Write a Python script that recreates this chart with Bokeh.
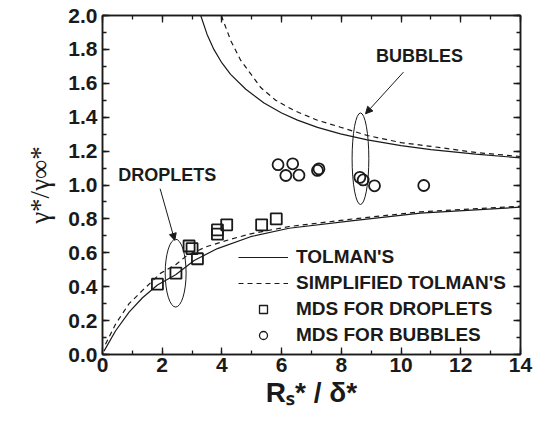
from bokeh.plotting import figure
from bokeh.models import (Range1d, LinearAxis, FixedTicker, Label, Arrow, NormalHead,
                          Legend, LegendItem)
from bokeh.embed import file_html
from bokeh.resources import INLINE

# ---------------- data ----------------
drop_tolman_r = [0.05, 0.44, 0.89, 1.34, 1.84, 2.45, 3.07, 3.85, 4.96, 6.25, 8.40, 10.65, 14.0]
drop_tolman_g = [0.02, 0.14, 0.25, 0.335, 0.41, 0.47, 0.555, 0.625, 0.695, 0.745, 0.79, 0.834, 0.869]

drop_simple_r = [0.10, 0.44, 0.89, 1.34, 1.95, 2.45, 2.80, 3.46, 4.29, 4.96, 6.25, 8.40, 10.65, 14.0]
drop_simple_g = [0.06, 0.18, 0.30, 0.378, 0.48, 0.53, 0.58, 0.635, 0.68, 0.712, 0.755, 0.80, 0.842, 0.875]

bub_tolman_r = [3.29, 3.50, 3.73, 4.0, 4.29, 4.8, 5.41, 6.0, 6.53, 7.2, 7.97, 8.87, 10.0, 11.0, 12.5, 14.0]
bub_tolman_g = [2.0, 1.89, 1.80, 1.72, 1.653, 1.565, 1.484, 1.425, 1.383, 1.34, 1.302, 1.266, 1.232, 1.209, 1.182, 1.16]

bub_simple_r = [3.98, 4.3, 4.63, 5.30, 5.8, 6.41, 7.2, 7.97, 8.87, 10.0, 11.0, 12.5, 14.0]
bub_simple_g = [2.0, 1.85, 1.735, 1.575, 1.50, 1.44, 1.382, 1.341, 1.292, 1.25, 1.228, 1.192, 1.168]

mds_drop_r = [1.84, 2.46, 2.90, 3.00, 3.18, 3.85, 3.85, 4.16, 5.33, 5.82]
mds_drop_g = [0.415, 0.48, 0.64, 0.625, 0.565, 0.735, 0.71, 0.765, 0.765, 0.80]

mds_bub_r = [5.88, 6.37, 6.14, 6.58, 7.20, 7.25, 8.62, 8.73, 9.11, 10.76]
mds_bub_g = [1.12, 1.125, 1.056, 1.058, 1.086, 1.095, 1.045, 1.03, 0.995, 0.997]

x_ticks = [0, 2, 4, 6, 8, 10, 12, 14]
x_minor = [0, 1, 2, 3, 4, 5, 6, 7, 8, 9, 10, 11, 12, 13, 14]
y_ticks = [0.0, 0.2, 0.4, 0.6, 0.8, 1.0, 1.2, 1.4, 1.6, 1.8, 2.0]
y_minor = [0.0, 0.1, 0.2, 0.3, 0.4, 0.5, 0.6, 0.7, 0.8, 0.9, 1.0,
           1.1, 1.2, 1.3, 1.4, 1.5, 1.6, 1.7, 1.8, 1.9, 2.0]

x_title = "R\u209b* / \u03b4*"
y_title = "\u03b3*/\u03b3\u221e*"

# ---------------- figure ----------------
FONT = "Liberation Sans"
SERIF = "Liberation Serif"
INK = "#1a1a1a"

p = figure(width=535, height=422, output_backend="svg", toolbar_location=None,
           x_range=Range1d(0, 14), y_range=Range1d(0, 2.0),
           min_border_left=102, min_border_right=15, min_border_top=15, min_border_bottom=68,
           x_axis_location=None, y_axis_location=None)
p.grid.visible = False
p.outline_line_color = INK
p.outline_line_width = 1.5
p.background_fill_color = "white"
p.border_fill_color = "white"


def style_axis(ax, ticks, minor, labels=True):
    ax.ticker = FixedTicker(ticks=ticks, minor_ticks=minor)
    ax.major_tick_in = 7
    ax.major_tick_out = 0
    ax.minor_tick_in = 4
    ax.minor_tick_out = 0
    ax.major_tick_line_color = INK
    ax.minor_tick_line_color = INK
    ax.major_tick_line_width = 1.3
    ax.minor_tick_line_width = 1.3
    ax.axis_line_color = INK
    ax.axis_line_width = 1.5
    if labels:
        ax.major_label_text_font = FONT
        ax.major_label_text_font_style = "bold"
        ax.major_label_text_font_size = "21px"
        ax.major_label_text_color = INK
        ax.major_label_standoff = 4
    else:
        ax.major_label_text_color = None
        ax.major_label_text_font_size = "1px"
        ax.major_label_standoff = 0


xb = LinearAxis()
style_axis(xb, x_ticks, x_minor)
xb.major_label_overrides = {t: str(t) for t in x_ticks}
xb.major_label_standoff = 3
xb.axis_label = x_title
xb.axis_label_text_font = FONT
xb.axis_label_text_font_style = "bold"
xb.axis_label_text_font_size = "28px"
xb.axis_label_text_color = INK
xb.axis_label_standoff = 2
p.add_layout(xb, "below")

yl = LinearAxis()
style_axis(yl, y_ticks, y_minor)
yl.major_label_overrides = {t: f"{t:.1f}" for t in y_ticks}
yl.major_label_standoff = 5
yl.axis_label = y_title
yl.axis_label_text_font = SERIF
yl.axis_label_text_font_style = "normal"
yl.axis_label_text_font_size = "27px"
yl.axis_label_text_color = INK
yl.axis_label_standoff = 10
p.add_layout(yl, "left")

xt = LinearAxis()
style_axis(xt, x_ticks, x_minor, labels=False)
p.add_layout(xt, "above")

yr = LinearAxis()
style_axis(yr, y_ticks, y_minor, labels=False)
p.add_layout(yr, "right")

# ---------------- curves and points ----------------
r1 = p.line(drop_tolman_r, drop_tolman_g, line_color=INK, line_width=1.2)
p.line(bub_tolman_r, bub_tolman_g, line_color=INK, line_width=1.2)
r2 = p.line(drop_simple_r, drop_simple_g, line_color=INK, line_width=1.2, line_dash="5 4")
p.line(bub_simple_r, bub_simple_g, line_color=INK, line_width=1.2, line_dash="5 4")

p.scatter(mds_drop_r, mds_drop_g, marker="square", size=11, fill_alpha=0,
          line_color=INK, line_width=1.8)
p.scatter(mds_bub_r, mds_bub_g, marker="circle", size=11, fill_alpha=0,
          line_color=INK, line_width=1.8)

# legend proxies (smaller markers, as in the reference legend)
leg_sq = p.scatter([float("nan")], [float("nan")], marker="square", size=8, fill_alpha=0,
                   line_color=INK, line_width=1.3)
leg_ci = p.scatter([float("nan")], [float("nan")], marker="circle", size=8, fill_alpha=0,
                   line_color=INK, line_width=1.3)

legend = Legend(items=[LegendItem(label="TOLMAN'S", renderers=[r1]),
                       LegendItem(label="SIMPLIFIED TOLMAN'S", renderers=[r2]),
                       LegendItem(label="MDS FOR DROPLETS", renderers=[leg_sq]),
                       LegendItem(label="MDS FOR BUBBLES", renderers=[leg_ci])],
                location=(136, 8), orientation="vertical")
legend.label_text_font = FONT
legend.label_text_font_style = "bold"
legend.label_text_font_size = "19px"
legend.label_text_color = INK
legend.glyph_width = 50
legend.glyph_height = 20
legend.label_height = 20
legend.spacing = 4
legend.label_standoff = 8
legend.padding = 0
legend.margin = 0
legend.border_line_color = None
legend.background_fill_alpha = 0
p.add_layout(legend, "center")

# ---------------- annotations ----------------
p.ellipse(x=[8.64], y=[1.155], width=[0.56], height=[0.54], fill_color=None,
          line_color=INK, line_width=1.0)
p.ellipse(x=[2.45], y=[0.48], width=[0.70], height=[0.40], fill_color=None,
          line_color=INK, line_width=1.0)

p.add_layout(Arrow(x_start=10.08, y_start=1.666, x_end=8.81, y_end=1.42,
                   line_color=INK, line_width=1.0,
                   end=NormalHead(size=7, fill_color=INK, line_color=INK)))
p.add_layout(Arrow(x_start=1.93, y_start=0.978, x_end=2.42, y_end=0.673,
                   line_color=INK, line_width=1.0,
                   end=NormalHead(size=7, fill_color=INK, line_color=INK)))

p.add_layout(Label(x=10.62, y=1.761, text="BUBBLES", text_font=FONT, text_font_style="bold",
                   text_font_size="18px", text_color=INK, text_align="center",
                   text_baseline="middle"))
p.add_layout(Label(x=2.17, y=1.059, text="DROPLETS", text_font=FONT, text_font_style="bold",
                   text_font_size="18px", text_color=INK, text_align="center",
                   text_baseline="middle"))

open("out.html", "w").write(file_html(p, INLINE))
